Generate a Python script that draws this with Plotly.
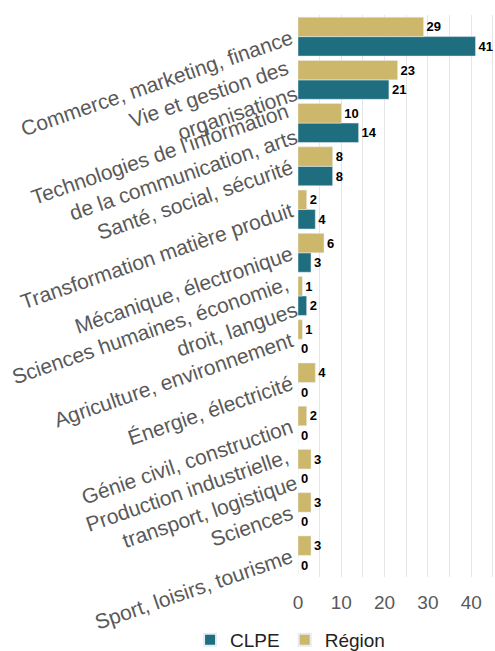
import plotly.graph_objects as go

categories = [
    "Commerce, marketing, finance",
    "Vie et gestion des<br>organisations",
    "Technologies de l'information<br>de la communication, arts",
    "Santé, social, sécurité",
    "Transformation matière produit",
    "Mécanique, électronique",
    "Sciences humaines, économie,<br>droit, langues",
    "Agriculture, environnement",
    "Énergie, électricité",
    "Génie civil, construction",
    "Production industrielle,<br>transport, logistique",
    "Sciences",
    "Sport, loisirs, tourisme",
]
region = [29, 23, 10, 8, 2, 6, 1, 1, 4, 2, 3, 3, 3]
clpe = [41, 21, 14, 8, 4, 3, 2, 0, 0, 0, 0, 0, 0]
x_ticks = [0, 10, 20, 30, 40]

TEAL = "#1E6E80"
GOLD = "#CDB76A"
label_font = dict(family="Liberation Sans, Arial, sans-serif", size=13, color="#000000")

fig = go.Figure()
fig.add_trace(go.Bar(
    y=categories, x=clpe, name="CLPE", orientation="h",
    marker=dict(color=TEAL),
    textposition="outside", constraintext="none",
    texttemplate="<b>%{x}</b>", textfont=label_font, cliponaxis=False,
    hoverinfo="skip",
))
fig.add_trace(go.Bar(
    y=categories, x=region, name="Région", orientation="h",
    marker=dict(color=GOLD),
    textposition="outside", constraintext="none",
    texttemplate="<b>%{x}</b>", textfont=label_font, cliponaxis=False,
    hoverinfo="skip",
))

fig.update_layout(
    width=495, height=659,
    margin=dict(l=298, r=0, t=15, b=82),
    paper_bgcolor="white", plot_bgcolor="white",
    barmode="group", bargap=0.1, bargroupgap=0,
    hovermode=False,
    font=dict(family="Liberation Sans, Arial, sans-serif", color="#595959"),
    showlegend=True,
    legend=dict(orientation="h", x=0.586, xanchor="center", xref="container",
                y=0.0, yanchor="bottom", yref="container",
                font=dict(size=19, color="#222222"),
                itemsizing="constant"),
    xaxis=dict(range=[0, 45.5], tickvals=x_ticks, ticktext=[str(v) for v in x_ticks],
               showgrid=True, gridcolor="#E6E6E6", gridwidth=1,
               minor=dict(dtick=5, showgrid=True, gridcolor="#E6E6E6", gridwidth=1),
               zeroline=False, showline=False, ticks="", automargin=False,
               ticklabelstandoff=12, showspikes=False,
               tickfont=dict(size=19, color="#595959")),
    yaxis=dict(categoryorder="array", categoryarray=categories[::-1],
               tickangle=-19, tickfont=dict(size=21, color="#595959"),
               showgrid=False, zeroline=False, showline=False, ticks="",
               automargin=False, ticklabelstandoff=6, showspikes=False),
)

fig.write_html(
    "out.html",
    config={"displayModeBar": False, "staticPlot": True},
    post_script="document.body.style.margin='0';document.body.style.overflow='hidden';",
)
